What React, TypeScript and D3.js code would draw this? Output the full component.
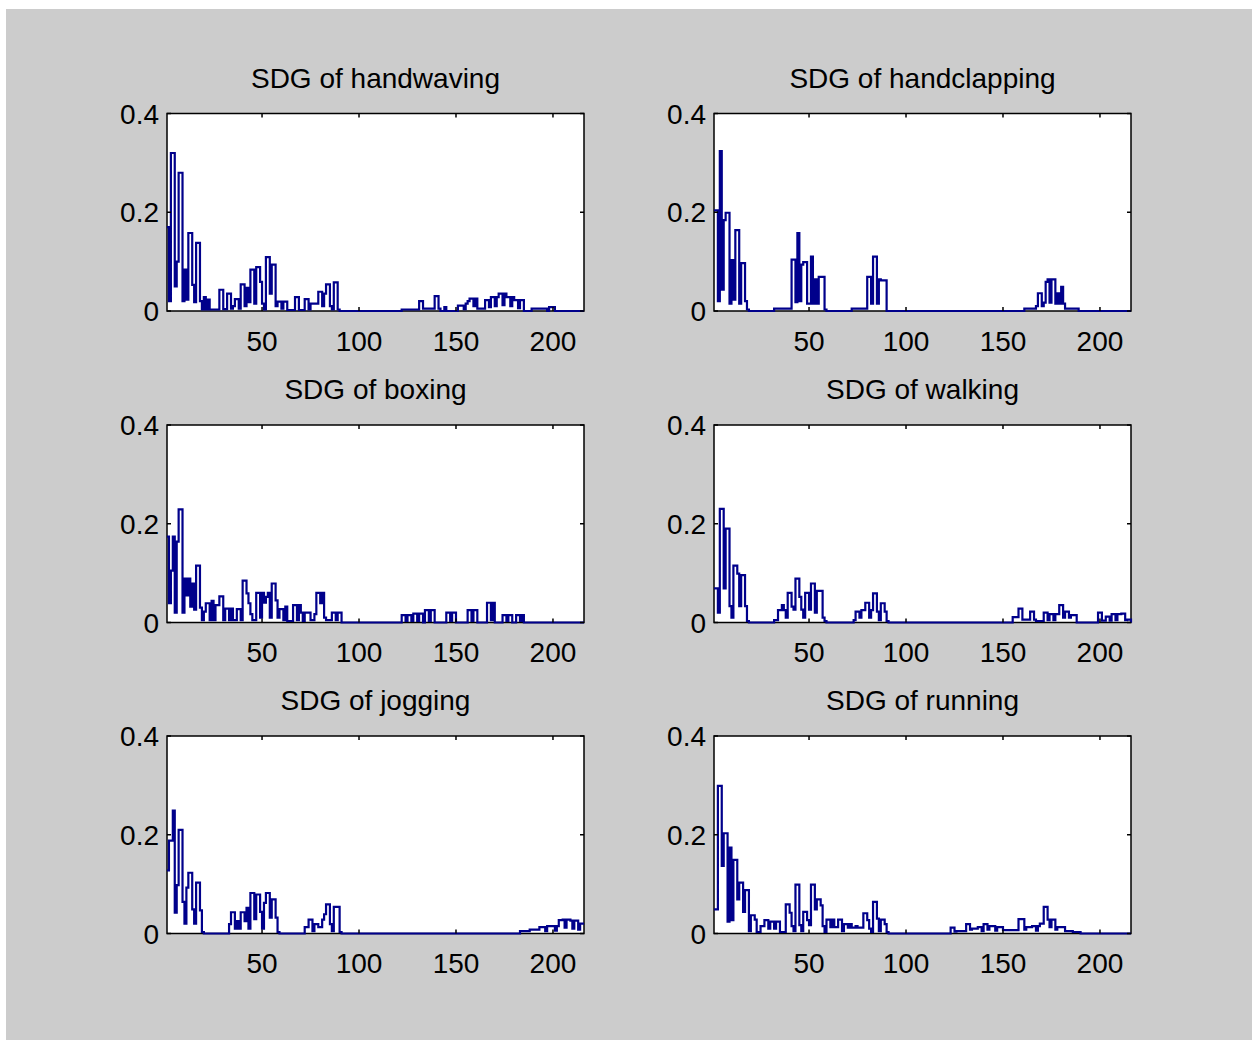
import React from 'react';
import * as d3 from 'd3';

// sample count on the x axis
const N = 216;

const titles = ['SDG of handwaving', 'SDG of handclapping', 'SDG of boxing', 'SDG of walking', 'SDG of jogging', 'SDG of running'];
const xTicks = [50, 100, 150, 200];
const yTicks = [0, 0.2, 0.4];
const yTickLabels = ['0', '0.2', '0.4'];

// runs of [firstIndex, lastIndex, value]; everything else is 0
const handwaving = [
  [1, 1, 0.17], [2, 2, 0.02], [3, 4, 0.32], [5, 5, 0.05], [6, 6, 0.1], [7, 8, 0.28], [9, 9, 0.02],
  [10, 10, 0.084], [11, 11, 0.023], [12, 13, 0.158], [14, 14, 0.053], [15, 15, 0.018], [16, 17, 0.138],
  [18, 18, 0.02], [19, 19, 0.003], [20, 20, 0.028], [21, 21, 0.003], [22, 22, 0.023], [23, 27, 0.003],
  [28, 29, 0.043], [30, 31, 0.004], [32, 33, 0.035], [34, 34, 0.005], [35, 35, 0.01], [36, 37, 0.024],
  [38, 38, 0.005], [39, 40, 0.054], [41, 41, 0.01], [42, 42, 0.047], [43, 43, 0.018], [44, 45, 0.084],
  [46, 46, 0.015], [47, 48, 0.089], [49, 49, 0.059], [50, 50, 0.015], [51, 51, 0.003], [52, 53, 0.109],
  [54, 54, 0.035], [55, 56, 0.094], [57, 57, 0.01], [58, 59, 0.019], [60, 60, 0.005], [61, 62, 0.019],
  [63, 66, 0.002], [67, 68, 0.028], [69, 71, 0.002], [72, 73, 0.024], [74, 74, 0.003], [75, 78, 0.015],
  [79, 80, 0.039], [81, 81, 0.01], [82, 82, 0.035], [83, 84, 0.054], [85, 85, 0.01], [86, 86, 0.003],
  [87, 88, 0.058], [89, 89, 0.003],
  [122, 130, 0.003], [131, 132, 0.02], [133, 138, 0.005], [139, 140, 0.03], [141, 141, 0.005], [144, 144, 0.008],
  [151, 153, 0.011], [154, 154, 0.004], [155, 155, 0.015], [156, 156, 0.02], [157, 158, 0.025], [159, 159, 0.01],
  [160, 160, 0.025], [161, 164, 0.005], [165, 166, 0.022], [167, 167, 0.008], [168, 169, 0.028], [170, 170, 0.01],
  [171, 171, 0.028], [172, 173, 0.035], [174, 174, 0.012], [175, 175, 0.035], [176, 177, 0.028], [178, 178, 0.01],
  [179, 179, 0.028], [180, 181, 0.022], [182, 182, 0.006], [183, 184, 0.022], [189, 196, 0.005], [198, 200, 0.008],
];

const handclapping = [
  [1, 2, 0.204], [3, 3, 0.02], [4, 4, 0.324], [5, 5, 0.043], [6, 6, 0.184], [7, 8, 0.199], [9, 9, 0.015],
  [10, 10, 0.103], [11, 11, 0.023], [12, 13, 0.164], [14, 14, 0.015], [15, 16, 0.097], [17, 17, 0.02], [18, 18, 0.003],
  [32, 40, 0.005], [41, 42, 0.104], [43, 43, 0.018], [44, 44, 0.158], [45, 45, 0.02], [46, 46, 0.094],
  [47, 48, 0.099], [49, 50, 0.015], [51, 51, 0.11], [52, 52, 0.015], [53, 53, 0.064], [54, 54, 0.015],
  [55, 57, 0.069], [58, 58, 0.003],
  [72, 79, 0.005], [80, 81, 0.069], [82, 82, 0.015], [83, 84, 0.11], [85, 85, 0.015], [86, 86, 0.064], [87, 89, 0.062],
  [161, 166, 0.005], [167, 167, 0.01], [168, 169, 0.036], [170, 170, 0.01], [171, 171, 0.017], [172, 172, 0.059],
  [173, 173, 0.064], [174, 174, 0.017], [175, 176, 0.064], [177, 177, 0.015], [178, 178, 0.036], [179, 179, 0.015],
  [180, 180, 0.049], [181, 181, 0.015], [182, 188, 0.005],
];

const boxing = [
  [1, 1, 0.174], [2, 2, 0.039], [3, 3, 0.105], [4, 4, 0.174], [5, 5, 0.02], [6, 6, 0.164], [7, 8, 0.229],
  [9, 9, 0.02], [10, 10, 0.089], [11, 11, 0.055], [12, 12, 0.089], [13, 13, 0.032], [14, 14, 0.079],
  [15, 15, 0.026], [16, 17, 0.115], [18, 18, 0.03], [19, 19, 0.005], [20, 20, 0.022], [21, 22, 0.039],
  [23, 23, 0.005], [24, 24, 0.044], [25, 25, 0.005], [26, 27, 0.035], [28, 29, 0.053], [30, 30, 0.005],
  [31, 32, 0.028], [33, 33, 0.005], [34, 34, 0.028], [35, 36, 0.005], [37, 38, 0.027], [39, 39, 0.005],
  [40, 41, 0.085], [42, 42, 0.059], [43, 43, 0.039], [44, 44, 0.017], [45, 46, 0.005], [47, 48, 0.06],
  [49, 49, 0.01], [50, 50, 0.06], [51, 51, 0.04], [52, 52, 0.052], [53, 53, 0.06], [54, 54, 0.01],
  [55, 56, 0.079], [57, 57, 0.045], [58, 58, 0.01], [59, 60, 0.027], [61, 61, 0.005], [62, 62, 0.032],
  [63, 65, 0.003], [66, 67, 0.035], [68, 68, 0.005], [69, 69, 0.035], [70, 70, 0.02], [71, 71, 0.003],
  [72, 74, 0.02], [75, 76, 0.005], [77, 77, 0.017], [78, 79, 0.06], [80, 80, 0.039], [81, 81, 0.06],
  [82, 82, 0.01], [83, 85, 0.005], [86, 87, 0.02], [88, 88, 0.005], [89, 90, 0.02],
  [122, 123, 0.015], [124, 124, 0.003], [125, 126, 0.015], [127, 127, 0.003], [128, 129, 0.018], [130, 130, 0.003],
  [131, 132, 0.018], [134, 135, 0.025], [136, 136, 0.003], [137, 138, 0.025], [145, 146, 0.02], [147, 147, 0.003],
  [148, 149, 0.02], [156, 157, 0.025], [158, 158, 0.003], [159, 160, 0.025], [166, 167, 0.04], [168, 168, 0.005],
  [169, 169, 0.04], [174, 175, 0.015], [176, 176, 0.003], [177, 178, 0.015], [181, 182, 0.015], [183, 183, 0.003],
  [184, 184, 0.015],
];

const walking = [
  [1, 2, 0.069], [3, 3, 0.02], [4, 5, 0.23], [6, 6, 0.069], [7, 8, 0.19], [9, 9, 0.033], [10, 10, 0.01],
  [11, 12, 0.115], [13, 13, 0.099], [14, 14, 0.033], [15, 16, 0.096], [17, 17, 0.033], [18, 18, 0.003],
  [32, 33, 0.005], [34, 35, 0.025], [36, 36, 0.035], [37, 37, 0.025], [38, 38, 0.01], [39, 40, 0.06],
  [41, 41, 0.032], [42, 42, 0.026], [43, 44, 0.089], [45, 45, 0.052], [46, 46, 0.026], [47, 47, 0.01],
  [48, 49, 0.06], [50, 50, 0.026], [51, 52, 0.079], [53, 53, 0.02], [54, 56, 0.064], [57, 57, 0.01], [58, 58, 0.003],
  [73, 73, 0.005], [74, 75, 0.022], [76, 76, 0.01], [77, 78, 0.025], [79, 80, 0.04], [81, 81, 0.01],
  [82, 82, 0.025], [83, 84, 0.059], [85, 85, 0.022], [86, 86, 0.005], [87, 88, 0.039], [89, 89, 0.022], [90, 90, 0.003],
  [155, 157, 0.011], [158, 159, 0.028], [160, 163, 0.006], [164, 165, 0.022], [166, 166, 0.006], [167, 170, 0.003],
  [171, 172, 0.02], [173, 173, 0.005], [174, 175, 0.017], [176, 176, 0.005], [177, 178, 0.017], [179, 180, 0.035],
  [181, 181, 0.01], [182, 183, 0.022], [184, 184, 0.01], [185, 187, 0.015], [199, 200, 0.02], [201, 202, 0.004],
  [203, 204, 0.012], [205, 205, 0.004], [206, 207, 0.017], [208, 208, 0.005], [209, 210, 0.017], [211, 212, 0.018],
  [213, 213, 0.005], [214, 215, 0.006],
];

const jogging = [
  [1, 1, 0.128], [2, 3, 0.188], [4, 4, 0.249], [5, 5, 0.042], [6, 6, 0.098], [7, 8, 0.21], [9, 9, 0.064],
  [10, 10, 0.02], [11, 11, 0.093], [12, 13, 0.123], [14, 14, 0.049], [15, 15, 0.02], [16, 17, 0.103],
  [18, 18, 0.047], [19, 19, 0.003],
  [33, 33, 0.019], [34, 35, 0.043], [36, 36, 0.01], [37, 37, 0.025], [38, 38, 0.01], [39, 40, 0.043],
  [41, 41, 0.025], [42, 42, 0.052], [43, 43, 0.01], [44, 45, 0.082], [46, 46, 0.029], [47, 48, 0.079],
  [49, 49, 0.044], [50, 50, 0.01], [51, 51, 0.062], [52, 53, 0.082], [54, 54, 0.032], [55, 56, 0.069],
  [57, 57, 0.032], [58, 58, 0.003],
  [72, 73, 0.013], [74, 75, 0.028], [76, 76, 0.005], [77, 78, 0.019], [79, 80, 0.013], [81, 81, 0.028],
  [82, 82, 0.039], [83, 84, 0.059], [85, 85, 0.019], [86, 86, 0.005], [87, 89, 0.054], [90, 90, 0.003],
  [183, 187, 0.005], [188, 192, 0.008], [193, 195, 0.013], [196, 196, 0.005], [197, 200, 0.015], [201, 201, 0.006],
  [202, 202, 0.015], [203, 204, 0.027], [205, 205, 0.028], [206, 206, 0.012], [207, 208, 0.028], [209, 209, 0.026],
  [210, 210, 0.01], [211, 212, 0.026], [213, 213, 0.008], [214, 216, 0.02],
];

const running = [
  [1, 2, 0.049], [3, 4, 0.299], [5, 5, 0.137], [6, 7, 0.203], [8, 8, 0.024], [9, 9, 0.174], [10, 10, 0.027],
  [11, 12, 0.149], [13, 13, 0.069], [14, 15, 0.103], [16, 16, 0.044], [17, 18, 0.088], [19, 19, 0.005],
  [20, 21, 0.037], [22, 22, 0.028], [23, 24, 0.003], [25, 26, 0.015], [27, 28, 0.027], [29, 29, 0.01],
  [30, 31, 0.024], [32, 32, 0.01], [33, 34, 0.024], [35, 37, 0.003], [38, 39, 0.059], [40, 40, 0.042],
  [41, 41, 0.015], [42, 42, 0.005], [43, 44, 0.099], [45, 45, 0.017], [46, 46, 0.005], [47, 48, 0.044],
  [49, 49, 0.027], [50, 50, 0.017], [51, 52, 0.099], [53, 53, 0.049], [54, 55, 0.069], [56, 56, 0.057],
  [57, 57, 0.015], [58, 58, 0.003], [59, 60, 0.028], [61, 61, 0.013], [62, 62, 0.028], [63, 64, 0.013],
  [65, 66, 0.028], [67, 67, 0.005], [68, 69, 0.019], [70, 70, 0.012], [71, 71, 0.019], [72, 73, 0.012],
  [74, 74, 0.015], [75, 77, 0.012], [78, 79, 0.041], [80, 80, 0.027], [81, 81, 0.01], [82, 82, 0.003],
  [83, 84, 0.064], [85, 85, 0.03], [86, 86, 0.005], [87, 88, 0.028], [89, 89, 0.019], [90, 90, 0.003],
  [123, 124, 0.012], [125, 125, 0.004], [126, 130, 0.005], [131, 132, 0.019], [133, 133, 0.008], [134, 136, 0.01],
  [137, 138, 0.013], [139, 139, 0.005], [140, 141, 0.019], [142, 142, 0.008], [143, 145, 0.015], [146, 146, 0.006],
  [147, 149, 0.013], [150, 157, 0.007], [158, 160, 0.029], [161, 161, 0.008], [162, 164, 0.013], [165, 166, 0.015],
  [167, 167, 0.006], [168, 168, 0.015], [169, 170, 0.02], [171, 172, 0.054], [173, 173, 0.028], [174, 174, 0.013],
  [175, 176, 0.028], [177, 177, 0.008], [178, 181, 0.013], [182, 185, 0.005], [186, 189, 0.003],
];

const allRuns = [handwaving, handclapping, boxing, walking, jogging, running];

const colX = [167, 714];
const rowY = [113.5, 425, 736];
const plotW = 417;
const plotH = 197.5;
const font = "'Liberation Sans', Arial, sans-serif";
const lineColor = '#00008b';

const expand = (runs: number[][]) => {
  const arr = new Array(N).fill(0);
  runs.forEach(([s, e, v]) => {
    for (let i = s; i <= e; i++) arr[i - 1] = v;
  });
  return arr;
};

const Panel = ({ idx }: { idx: number }) => {
  const x0 = colX[idx % 2];
  const y0 = rowY[Math.floor(idx / 2)];
  const x = d3.scaleLinear().domain([1, N]).range([x0, x0 + plotW]);
  const y = d3.scaleLinear().domain([0, 0.4]).range([y0 + plotH, y0]);
  const vals = expand(allRuns[idx]);
  const pts: [number, number][] = vals.map((v, k) => [k + 1, v]);
  const line = d3
    .line<[number, number]>()
    .x((d) => x(d[0]))
    .y((d) => y(d[1]))
    .curve(d3.curveStepAfter);
  const tl = 4;
  return (
    <g>
      <rect x={x0} y={y0} width={plotW} height={plotH} fill="#fff" stroke="#000" strokeWidth={1.5} />
      <path d={line(pts) || ''} fill="none" stroke={lineColor} strokeWidth={2.2} />
      {xTicks.map((t) => (
        <g key={'x' + t}>
          <line x1={x(t)} x2={x(t)} y1={y0 + plotH} y2={y0 + plotH - tl} stroke="#000" strokeWidth={1.5} />
          <line x1={x(t)} x2={x(t)} y1={y0} y2={y0 + tl} stroke="#000" strokeWidth={1.5} />
          <text x={x(t)} y={y0 + plotH + 39.5} textAnchor="middle" fontSize={28} fontFamily={font} fill="#000">
            {t}
          </text>
        </g>
      ))}
      {yTicks.map((t, k) => (
        <g key={'y' + t}>
          <line x1={x0} x2={x0 + tl} y1={y(t)} y2={y(t)} stroke="#000" strokeWidth={1.5} />
          <line x1={x0 + plotW} x2={x0 + plotW - tl} y1={y(t)} y2={y(t)} stroke="#000" strokeWidth={1.5} />
          <text x={x0 - 8} y={y(t) + 10} textAnchor="end" fontSize={28} fontFamily={font} fill="#000">
            {yTickLabels[k]}
          </text>
        </g>
      ))}
      <text x={x0 + plotW / 2} y={y0 - 26} textAnchor="middle" fontSize={28} fontFamily={font} fill="#000">
        {titles[idx]}
      </text>
    </g>
  );
};

const App = () => {
  return (
    <svg width={1252} height={1040} style={{ position: 'absolute', left: 0, top: 0 }}>
      <rect x={0} y={0} width={1252} height={1040} fill="#fff" />
      <rect x={6} y={9} width={1246} height={1031} fill="#cccccc" />
      {titles.map((_, i) => (
        <Panel key={i} idx={i} />
      ))}
    </svg>
  );
};

export default App;
